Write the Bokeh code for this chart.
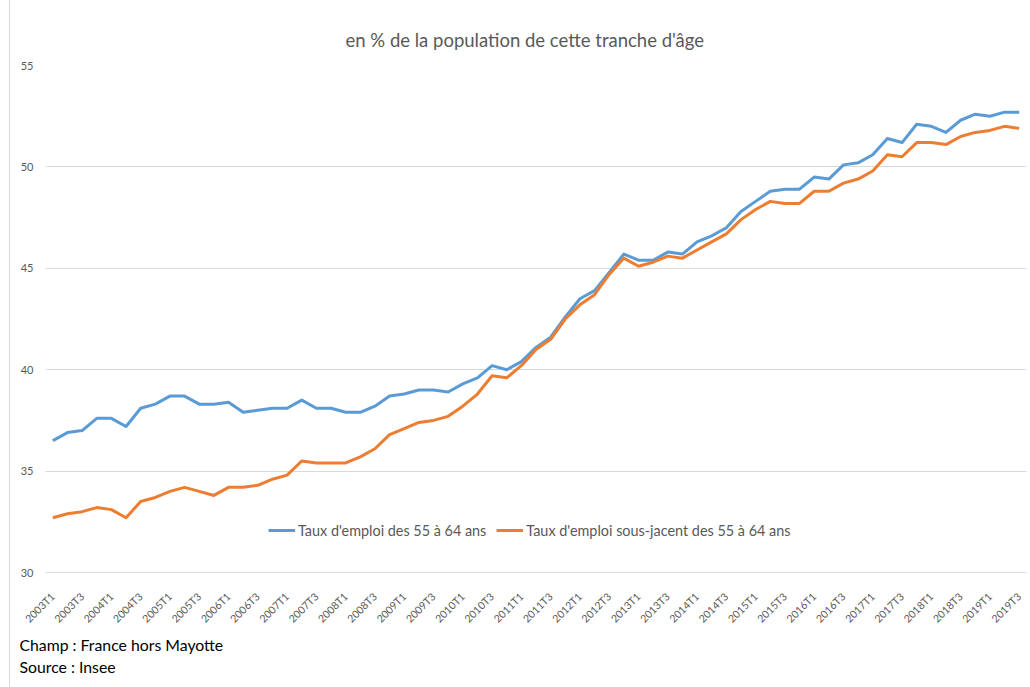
import math
from bokeh.plotting import figure
from bokeh.models import ColumnDataSource, Range1d, FixedTicker, Legend, LegendItem, Title
from bokeh.embed import file_html
from bokeh.resources import INLINE

quarters = [f"{y}T{q}" for y in range(2003, 2020) for q in (1, 2, 3, 4)][:67]

taux_emploi = [36.5, 36.9, 37.0, 37.6, 37.6, 37.2, 38.1, 38.3, 38.7, 38.7,
               38.3, 38.3, 38.4, 37.9, 38.0, 38.1, 38.1, 38.5, 38.1, 38.1,
               37.9, 37.9, 38.2, 38.7, 38.8, 39.0, 39.0, 38.9, 39.3, 39.6,
               40.2, 40.0, 40.4, 41.1, 41.6, 42.6, 43.5, 43.9, 44.8, 45.7,
               45.4, 45.4, 45.8, 45.7, 46.3, 46.6, 47.0, 47.8, 48.3, 48.8,
               48.9, 48.9, 49.5, 49.4, 50.1, 50.2, 50.6, 51.4, 51.2, 52.1,
               52.0, 51.7, 52.3, 52.6, 52.5, 52.7, 52.7]

taux_sous_jacent = [32.7, 32.9, 33.0, 33.2, 33.1, 32.7, 33.5, 33.7, 34.0, 34.2,
                    34.0, 33.8, 34.2, 34.2, 34.3, 34.6, 34.8, 35.5, 35.4, 35.4,
                    35.4, 35.7, 36.1, 36.8, 37.1, 37.4, 37.5, 37.7, 38.2, 38.8,
                    39.7, 39.6, 40.2, 41.0, 41.5, 42.5, 43.2, 43.7, 44.7, 45.5,
                    45.1, 45.3, 45.6, 45.5, 45.9, 46.3, 46.7, 47.4, 47.9, 48.3,
                    48.2, 48.2, 48.8, 48.8, 49.2, 49.4, 49.8, 50.6, 50.5, 51.2,
                    51.2, 51.1, 51.5, 51.7, 51.8, 52.0, 51.9]

y_ticks = [30, 35, 40, 45, 50, 55]
series_names = ["Taux d'emploi des 55 à 64 ans", "Taux d'emploi sous-jacent des 55 à 64 ans"]
title_text = "en % de la population de cette tranche d'âge"
notes = ["Champ : France hors Mayotte", "Source : Insee"]

FONT = "Lato"
GREY = "#595959"

src = ColumnDataSource(dict(x=list(range(len(quarters))), a=taux_emploi, b=taux_sous_jacent))

W, H = 1020, 687
p = figure(width=W, height=H, output_backend="svg", toolbar_location=None,
           x_range=Range1d(-0.5, len(quarters) - 0.5), y_range=Range1d(30, 55),
           min_border_left=35, min_border_right=4, min_border_top=65, min_border_bottom=115)
p.outline_line_color = None
p.background_fill_color = "white"
p.border_fill_color = "white"

r1 = p.line("x", "a", source=src, line_color="#5B9BD5", line_width=3, line_join="round")
r2 = p.line("x", "b", source=src, line_color="#ED7D31", line_width=3, line_join="round")

p.xgrid.visible = False
p.ygrid.grid_line_color = "#d9d9d9"
p.ygrid.grid_line_width = 1

p.yaxis.ticker = FixedTicker(ticks=y_ticks)
p.yaxis.axis_line_color = None
p.yaxis.major_tick_line_color = None
p.yaxis.minor_tick_line_color = None
p.yaxis.major_label_text_font = FONT
p.yaxis.major_label_text_font_size = "11px"
p.yaxis.major_label_text_color = GREY
p.yaxis.major_label_standoff = 6

tick_idx = list(range(0, len(quarters), 2))
p.xaxis.ticker = FixedTicker(ticks=tick_idx)
p.xaxis.major_label_overrides = {i: quarters[i] for i in tick_idx}
p.xaxis.major_label_orientation = math.pi / 4
p.xaxis.axis_line_color = "#d9d9d9"
p.xaxis.axis_line_width = 1
p.xaxis.major_tick_line_color = None
p.xaxis.minor_tick_line_color = None
p.xaxis.major_label_text_font = FONT
p.xaxis.major_label_text_font_size = "10.5px"
p.xaxis.major_label_text_color = GREY
p.xaxis.major_label_standoff = 16

legend = Legend(items=[LegendItem(label=series_names[0], renderers=[r1]),
                       LegendItem(label=series_names[1], renderers=[r2])],
                orientation="horizontal", location=(223, 32))
legend.background_fill_alpha = 0
legend.border_line_color = None
legend.label_text_font = FONT
legend.label_text_font_size = "14.4px"
legend.label_text_color = GREY
legend.glyph_width = 27
legend.glyph_height = 20
legend.label_standoff = 3
legend.spacing = 10
legend.padding = 0
legend.margin = 0
p.add_layout(legend, "center")

p.title.text = title_text
p.title.align = "left"
p.title.offset = 300
p.title.text_font = FONT
p.title.text_font_size = "18.5px"
p.title.text_font_style = "normal"
p.title.text_color = GREY
p.title.standoff = 30

for i, note in enumerate(notes):
    t = Title(text=note, align="left", offset=-26, text_font=FONT, text_font_size="15.8px",
              text_font_style="normal", text_color="black", standoff=2 if i == 0 else 0)
    p.add_layout(t, "below")

p.styles = {"margin-left": "9px", "border-left": "1px solid #d9d9d9"}

open("out.html", "w").write(file_html(p, INLINE))
